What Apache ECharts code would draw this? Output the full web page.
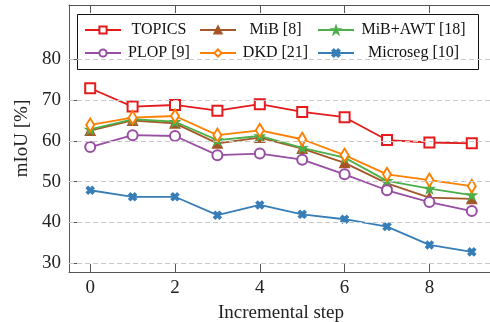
<!DOCTYPE html>
<html>
<head>
<meta charset="utf-8">
<script src="https://cdn.jsdelivr.net/npm/echarts@6/dist/echarts.min.js"></script>
<style>
html,body{margin:0;padding:0;background:#fff;}
#chart{width:490px;height:322px;}
</style>
</head>
<body>
<div id="chart"></div>
<script>
// ---- data ----
const steps = [0, 1, 2, 3, 4, 5, 6, 7, 8, 9];
const topics   = [72.9, 68.4, 68.8, 67.4, 69.0, 67.1, 65.8, 60.2, 59.6, 59.4];
const mib      = [62.5, 65.0, 64.3, 59.4, 60.8, 58.1, 54.6, 49.6, 46.1, 45.8];
const mibAwt   = [62.8, 65.3, 64.7, 60.2, 61.2, 58.3, 55.9, 50.2, 48.3, 46.7];
const plop     = [58.5, 61.4, 61.2, 56.5, 56.9, 55.4, 51.8, 47.9, 45.0, 42.8];
const dkd      = [63.9, 65.7, 66.1, 61.4, 62.6, 60.4, 56.5, 51.8, 50.4, 48.9];
const microseg = [47.9, 46.3, 46.3, 41.8, 44.3, 42.0, 40.8, 39.0, 34.5, 32.8];
const seriesNames = ['TOPICS', 'MiB [8]', 'MiB+AWT [18]', 'PLOP [9]', 'DKD [21]', 'Microseg [10]'];
const xTicks = [0, 2, 4, 6, 8];
const yTicks = [30, 40, 50, 60, 70, 80];

const FONT = '"Liberation Serif", "DejaVu Serif", serif';
const AX = '#555';
const STAR = 'path://M10,0 L12.35,6.76 L19.51,6.91 L13.80,11.24 L15.88,18.09 L10,14 L4.12,18.09 L6.20,11.24 L0.49,6.91 L7.65,6.76 Z';
const XMARK = 'path://M0,2 L2,0 L5,3 L8,0 L10,2 L7,5 L10,8 L8,10 L5,7 L2,10 L0,8 L3,5 Z';

function pairs(vals) { return steps.map((s, i) => [s, vals[i]]); }

function mk(name, vals, color, symbol, size) {
  return {
    name: name, type: 'line', data: pairs(vals), z: 2,
    symbol: symbol, symbolSize: size,
    lineStyle: { color: color, width: 1.8 },
    itemStyle: { color: color, borderColor: color, borderWidth: 1.8 },
    emphasis: { disabled: true }, animation: false
  };
}

const chart = echarts.init(document.getElementById('chart'), null, { renderer: 'canvas' });

const richCols = {
  c0: { width: 66, align: 'center', fontFamily: FONT, fontSize: 16, color: '#111', lineHeight: 18 },
  c1: { width: 69, align: 'center', fontFamily: FONT, fontSize: 16, color: '#111', lineHeight: 18 },
  c2: { width: 109, align: 'center', fontFamily: FONT, fontSize: 16, color: '#111', lineHeight: 18 }
};
function legendRow(names, top) {
  return {
    data: names, left: 84, top: top, orient: 'horizontal', padding: 0,
    itemWidth: 36, itemHeight: 9, itemGap: 7, z: 5,
    selectedMode: false,
    formatter: function (n) { return '{c' + names.indexOf(n) + '|' + n + '}'; },
    textStyle: { fontFamily: FONT, fontSize: 16, color: '#111', rich: richCols }
  };
}

const baseX = {
  type: 'value', min: -0.5, max: 9.5,
  axisLine: { show: true, onZero: false, lineStyle: { color: AX, width: 1 } },
  axisTick: { show: true, inside: true, length: 8, customValues: xTicks, lineStyle: { color: AX } },
  splitLine: { show: false }
};
const baseY = {
  type: 'value', min: 27.87, max: 93.3,
  axisLine: { show: true, onZero: false, lineStyle: { color: AX, width: 1 } },
  axisTick: { show: true, inside: true, length: 8, customValues: yTicks, lineStyle: { color: AX } },
  splitLine: { show: false }
};

chart.setOption({
  animation: false,
  backgroundColor: '#fff',
  grid: { left: 69, top: 5, width: 424, height: 267, containLabel: false, outerBoundsMode: 'none' },
  xAxis: [
    Object.assign({}, baseX, {
      position: 'bottom',
      axisLabel: { customValues: xTicks, margin: 7, fontFamily: FONT, fontSize: 19, color: '#222' },
      name: 'Incremental step', nameLocation: 'middle', nameGap: 32,
      nameTextStyle: { fontFamily: FONT, fontSize: 19, color: '#222' }
    }),
    Object.assign({}, baseX, { position: 'top', axisLabel: { show: false } })
  ],
  yAxis: [
    Object.assign({}, baseY, {
      position: 'left',
      axisLabel: { customValues: yTicks, margin: 8, fontFamily: FONT, fontSize: 19, color: '#222' },
      name: 'mIoU [%]', nameLocation: 'middle', nameGap: 34, nameRotate: 90,
      nameTextStyle: { fontFamily: FONT, fontSize: 19, color: '#222' }
    }),
    Object.assign({}, baseY, { position: 'right', axisLabel: { show: false } })
  ],
  legend: [
    legendRow([seriesNames[0], seriesNames[1], seriesNames[2]], 22),
    legendRow([seriesNames[3], seriesNames[4], seriesNames[5]], 45)
  ],
  graphic: [{
    type: 'rect', z: 4, silent: true,
    shape: { x: 77.5, y: 14.5, width: 401, height: 55 },
    style: { fill: '#fff', stroke: '#111', lineWidth: 1 }
  }],
  series: [
    {
      name: '__grid', type: 'line', data: [], z: 1, silent: true,
      markLine: {
        silent: true, symbol: ['none', 'none'], label: { show: false }, animation: false,
        lineStyle: { color: '#c8c8c8', type: [5, 3], width: 1 },
        data: yTicks.map(v => ({ yAxis: v }))
      }
    },
    mk(seriesNames[0], topics, '#e41a1c', 'emptyRect', 10),
    mk(seriesNames[1], mib, '#a65628', 'triangle', 9),
    mk(seriesNames[2], mibAwt, '#4daf4a', STAR, 8),
    mk(seriesNames[3], plop, '#984ea3', 'emptyCircle', 10),
    mk(seriesNames[4], dkd, '#ff7f00', 'emptyDiamond', [8, 13]),
    mk(seriesNames[5], microseg, '#377eb8', XMARK, 7)
  ]
});
</script>
</body>
</html>
